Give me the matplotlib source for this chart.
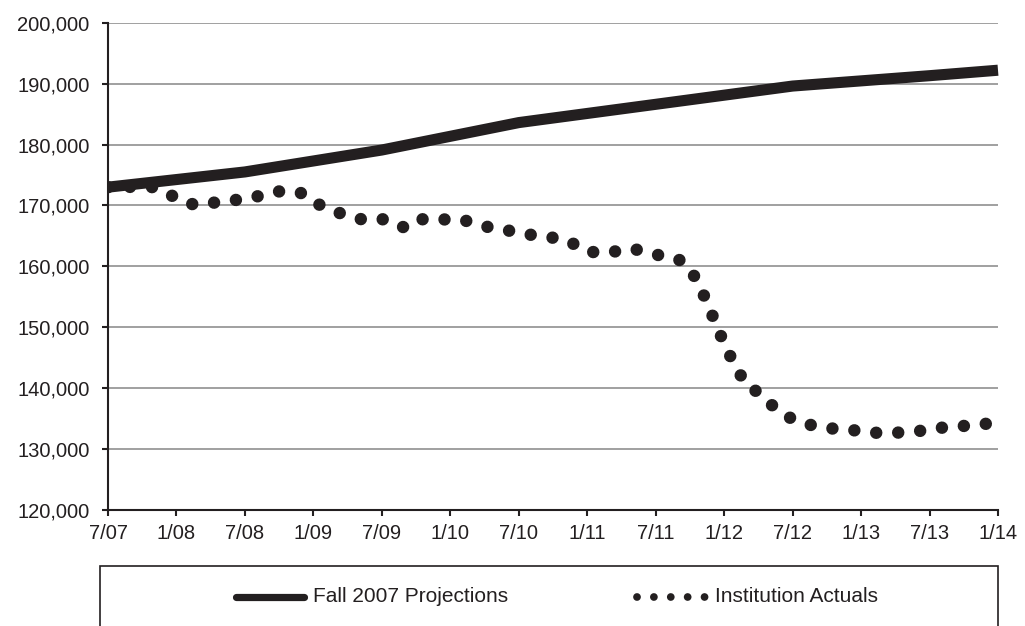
import numpy as np
import matplotlib.pyplot as plt
from matplotlib.lines import Line2D
from matplotlib.patches import Rectangle

plt.rcParams['font.family'] = ['Liberation Sans', 'DejaVu Sans']

# month index counted from 7/07
tick_labels = ['7/07', '1/08', '7/08', '1/09', '7/09', '1/10', '7/10',
               '1/11', '7/11', '1/12', '7/12', '1/13', '7/13', '1/14']

proj_months = [0, 12, 24, 36, 48, 60, 72, 78]
proj_values = [173000, 175500, 179100, 183600, 186600, 189600, 191300, 192200]

actual_values = [
    173000, 173000, 173050, 173050, 173000, 172200, 171200, 170300, 170100, 170400,
    170600, 170850, 171100, 171450, 171900, 172300, 172350, 172000, 170600, 169700,
    168950, 168300, 167750, 167800, 167800, 166800, 166400, 167700, 167750, 167600,
    167800, 167700, 167100, 166600, 166150, 165900, 165600, 165200, 164900, 164700,
    164450, 163500, 162400, 162300, 162250, 162700, 162900, 162400, 161950, 161550,
    161150, 159700, 156200, 151800, 147300, 143500, 140400, 139300, 137500, 136000,
    134900, 134200, 133800, 133450, 133300, 133200, 132900, 132680, 132680, 132680,
    132800, 132950, 133200, 133500, 133650, 133800, 134000, 134160,
]
actual_months = np.arange(len(actual_values))

ink = '#231f20'
W, H = 1025, 626

fig = plt.figure(figsize=(W / 100, H / 100), dpi=100)
ax = fig.add_axes([108 / W, 1 - 510 / H, (998 - 108) / W, (510 - 22.7) / H])

ax.plot(proj_months, proj_values, color=ink, lw=8, solid_capstyle='butt',
        solid_joinstyle='round', clip_on=False, zorder=3)
ax.plot(actual_months, actual_values, color=ink, lw=9,
        linestyle=(0, (0.001, 1.76)), dash_capstyle='round', zorder=4)

ax.set_xlim(0, 78)
ax.set_ylim(120000, 200000)
ax.set_xticks(np.arange(0, 79, 6))
ax.set_xticklabels(tick_labels)
ax.set_yticks(np.arange(120000, 200001, 10000))
ax.yaxis.set_major_formatter(plt.FuncFormatter(lambda v, p: f'{int(v):,}'))

ax.grid(axis='y', color='#a0a0a0', lw=1.4)
ax.set_axisbelow(True)
for s in ['top', 'right']:
    ax.spines[s].set_visible(False)
for s in ['left', 'bottom']:
    ax.spines[s].set_linewidth(1.5)
    ax.spines[s].set_color(ink)
ax.tick_params(axis='both', direction='out', length=4.3, width=1.5, color=ink,
               labelsize=14.5, labelcolor=ink)
ax.tick_params(axis='y', pad=9)
ax.tick_params(axis='x', pad=6)

# legend box, cut by the bottom of the picture
fig.patches.append(Rectangle((100 / W, -0.05), (998 - 100) / W, 0.05 + 1 - 566 / H,
                             transform=fig.transFigure, fill=False, ec=ink, lw=1.2))

# legend entries drawn by hand (the two samples have different lengths)
ly = 1 - 597 / H
fig.add_artist(Line2D([236 / W, 304 / W], [ly, ly], transform=fig.transFigure,
                      color=ink, lw=5.2, solid_capstyle='round'))
fig.text(313 / W, ly, 'Fall 2007 Projections', fontsize=15, color=ink, va='center')
fig.add_artist(Line2D([637 / W, 706 / W], [ly, ly], transform=fig.transFigure,
                      color=ink, lw=5.6, linestyle=(0, (0.001, 2.17)), dash_capstyle='round'))
fig.text(715 / W, ly, 'Institution Actuals', fontsize=15, color=ink, va='center')

fig.savefig('out.png', dpi=100)
